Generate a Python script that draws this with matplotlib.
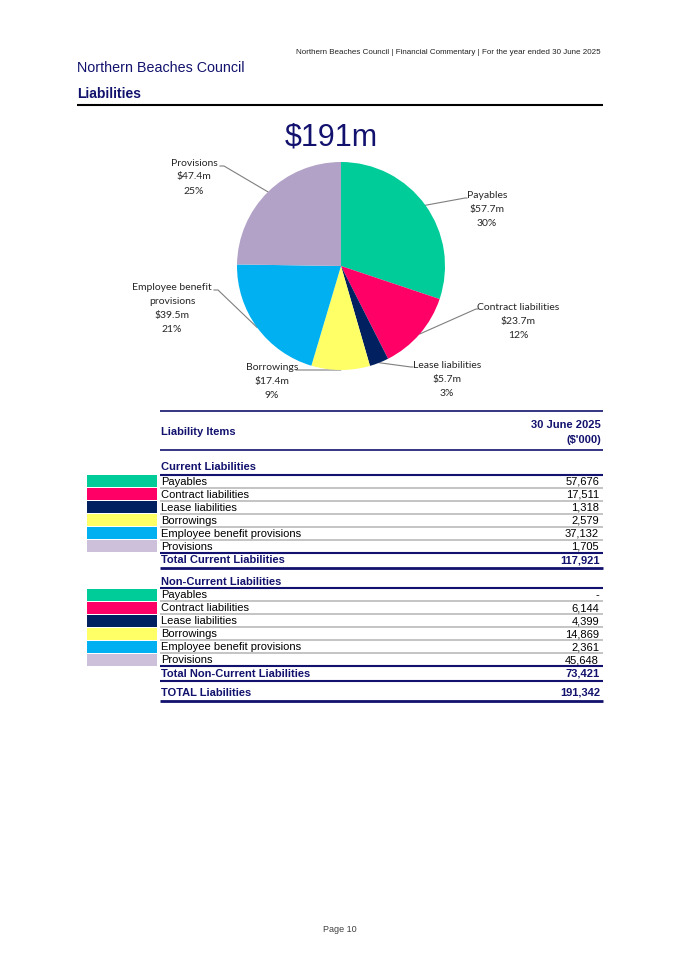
import matplotlib
matplotlib.use('Agg')
import matplotlib.pyplot as plt
from matplotlib.patches import Rectangle
import numpy as np

# ---------------- data ----------------
categories = ['Payables', 'Contract liabilities', 'Lease liabilities', 'Borrowings',
              'Employee benefit provisions', 'Provisions']
pie_labels = ['Payables', 'Contract liabilities', 'Lease liabilities', 'Borrowings',
              'Employee benefit\nprovisions', 'Provisions']
pie_values_m = [57.7, 23.7, 5.7, 17.4, 39.5, 47.4]
pie_pct = [30, 12, 3, 9, 21, 25]
current_values = [57676, 17511, 1318, 2579, 37132, 1705]
noncurrent_values = [None, 6144, 4399, 14869, 2361, 45648]
total_current = 117921
total_noncurrent = 73421
total_liabilities = 191342
headline = '$191m'

# ---------------- style ----------------
pie_colors = ['#00CC99', '#FF0066', '#002060', '#FFFF66', '#00B0F0', '#B3A2C7']
swatch_colors = ['#00CC99', '#FF0066', '#002060', '#FFFF66', '#00B0F0', '#CCC0DA']
NAVY = '#12126E'
GRAY = '#BFBFBF'
SANS = 'Liberation Sans'
LBL = 'Lato'

W, H = 675, 955
fig = plt.figure(figsize=(W / 100, H / 100), dpi=100)
ax = fig.add_axes([0, 0, 1, 1])
ax.set_xlim(0, W)
ax.set_ylim(H, 0)
ax.axis('off')

# ---------------- page header ----------------
ax.text(601, 52, 'Northern Beaches Council | Financial Commentary | For the year ended 30 June 2025',
        ha='right', va='center', fontsize=5.8, family=SANS, color='#222222')
ax.text(77, 68, 'Northern Beaches Council', ha='left', va='center', fontsize=10.3,
        family=SANS, color=NAVY)
ax.text(77, 94, 'Liabilities', ha='left', va='center', fontsize=10, family=SANS,
        color=NAVY, fontweight='bold')
ax.plot([77, 603], [105, 105], color='black', lw=1.5, solid_capstyle='butt')

# ---------------- pie ----------------
cx, cy, r = 341, 266, 104
pax = fig.add_axes([(cx - r) / W, 1 - (cy + r) / H, 2 * r / W, 2 * r / H])
wedges, _ = pax.pie(pie_values_m, colors=pie_colors, startangle=90, counterclock=False,
                    radius=1, wedgeprops=dict(linewidth=0))
pax.set_xlim(-1, 1)
pax.set_ylim(-1, 1)
pax.axis('off')

ax.text(331, 137.5, headline, ha='center', va='center', fontsize=22, family=SANS, color=NAVY)

# label layout: (text centre x, first line y, elbow point, end point)
label_layout = [
    (487, 195, (465, 198), (467, 198)),
    (518, 307, (476, 309), (478, 309)),
    (447, 365, (411, 367), (413, 367)),
    (272, 367, (298, 370), (296, 370)),
    (172, 287, (218, 290), (214, 290)),
    (194, 163, (224, 166), (220, 166)),
]
for w, lab, v, p, (tx, ty, elbow, end) in zip(wedges, pie_labels, pie_values_m, pie_pct, label_layout):
    mid = np.deg2rad((w.theta1 + w.theta2) / 2)
    sx, sy = cx + r * np.cos(mid), cy - r * np.sin(mid)
    ax.plot([sx, elbow[0], end[0]], [sy, elbow[1], end[1]], color='#7F7F7F', lw=0.8)
    lines = lab.split('\n') + [f'${v}m', f'{p}%']
    for i, s in enumerate(lines):
        ax.text(tx, ty + i * 14, s, ha='center', va='center', fontsize=7.5, family=LBL,
                color='#262626')

# ---------------- table ----------------
TL, TR = 160, 603
VX = 599
ROW = 13
FS = 8


def hline(y, color=NAVY, lw=1.2):
    ax.plot([TL, TR], [y, y], color=color, lw=lw, solid_capstyle='butt')


hline(411)
ax.text(161, 432, 'Liability Items', ha='left', va='center', fontsize=FS, family=SANS,
        color=NAVY, fontweight='bold')
ax.text(VX + 2, 425, '30 June 2025', ha='right', va='center', fontsize=FS, family=SANS,
        color=NAVY, fontweight='bold')
ax.text(VX + 2, 440, "($'000)", ha='right', va='center', fontsize=FS, family=SANS,
        color=NAVY, fontweight='bold')
hline(450)


def section(title, title_y, top, values, total_label, total_value):
    ax.text(161, title_y, title, ha='left', va='center', fontsize=FS, family=SANS,
            color=NAVY, fontweight='bold')
    hline(top, lw=1.5)
    for i, (cat, val) in enumerate(zip(categories, values)):
        y0 = top + i * ROW
        ax.add_patch(Rectangle((87, y0 + 0.7), 70, ROW - 1.4, facecolor=swatch_colors[i],
                               edgecolor='none'))
        ax.text(161, y0 + ROW / 2 + 0.6, cat, ha='left', va='center', fontsize=FS,
                family=SANS, color='black')
        txt = '-' if val is None else f'{val:,}'
        ax.text(VX, y0 + ROW / 2 + 0.6, txt, ha='right', va='center', fontsize=FS,
                family=SANS, color='black')
        if i < len(values) - 1:
            hline(y0 + ROW, color=GRAY, lw=1.3)
    bottom = top + len(values) * ROW
    hline(bottom, lw=1.5)
    ty = bottom + 7.5
    ax.text(161, ty, total_label, ha='left', va='center', fontsize=FS, family=SANS,
            color=NAVY, fontweight='bold')
    ax.text(VX + 1, ty, f'{total_value:,}', ha='right', va='center', fontsize=FS,
            family=SANS, color=NAVY, fontweight='bold')
    return bottom


b1 = section('Current Liabilities', 467, 474.5, current_values,
             'Total Current Liabilities', total_current)
hline(567.5, lw=2)
b2 = section('Non-Current Liabilities', 581.5, 588.3, noncurrent_values,
             'Total Non-Current Liabilities', total_noncurrent)
hline(681, lw=1.5)
ax.text(161, 692.5, 'TOTAL Liabilities', ha='left', va='center', fontsize=FS, family=SANS,
        color=NAVY, fontweight='bold')
ax.text(VX + 1, 692.5, f'{total_liabilities:,}', ha='right', va='center', fontsize=FS,
        family=SANS, color=NAVY, fontweight='bold')
hline(701, lw=2)

# ---------------- footer ----------------
ax.text(340, 929, 'Page 10', ha='center', va='center', fontsize=6.5, family=SANS,
        color='#404040')

fig.savefig('out.png', dpi=100)
